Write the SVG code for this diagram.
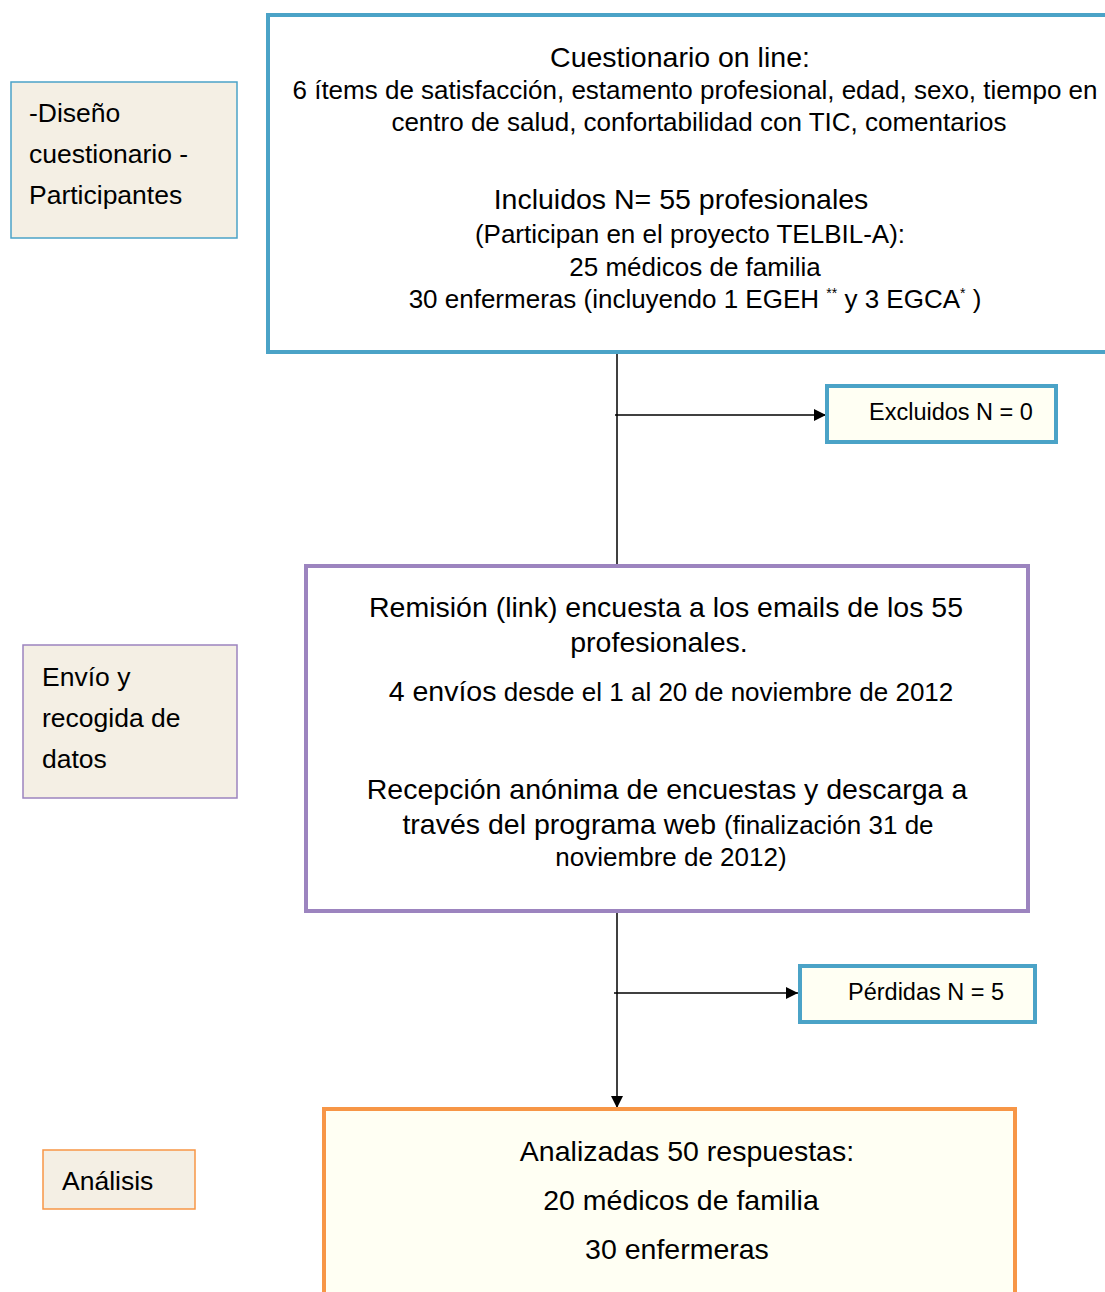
<svg xmlns="http://www.w3.org/2000/svg" width="1105" height="1292" viewBox="0 0 1105 1292">
<defs>
<style>
text{font-family:"Liberation Sans",Arial,sans-serif;fill:#000}
.big{font-size:28.5px;text-anchor:middle}
.med{font-size:26px;text-anchor:middle}
.sm{font-size:23.5px}
.lbl{font-size:26.5px}
.sup{font-size:14px}
.edge{stroke:#000;stroke-width:1.5;fill:none}
</style>
<marker id="ah" viewBox="0 0 10 10" refX="10" refY="5" markerWidth="12" markerHeight="12" markerUnits="userSpaceOnUse" orient="auto">
<path d="M0,0 L10,5 L0,10 z" fill="#000"/>
</marker>
</defs>
<rect width="1105" height="1292" fill="#fff"/>

<g id="connectors">
<line class="edge" x1="617" y1="352" x2="617" y2="566"/>
<line class="edge" x1="615" y1="415" x2="826" y2="415" marker-end="url(#ah)"/>
<line class="edge" x1="617" y1="911" x2="617" y2="1108" marker-end="url(#ah)"/>
<line class="edge" x1="614" y1="993" x2="798" y2="993" marker-end="url(#ah)"/>
</g>

<g id="label-diseno">
<rect x="11" y="82" width="226" height="156" fill="#F4EFE4" stroke="#4BA3C7" stroke-width="1.5"/>
<text class="lbl" x="29" y="122">-Diseño</text>
<text class="lbl" x="29" y="163">cuestionario -</text>
<text class="lbl" x="29" y="204">Participantes</text>
</g>

<g id="node-cuestionario">
<rect x="268" y="15" width="845" height="337" fill="#fff" stroke="#4BA3C7" stroke-width="4"/>
<text class="big" x="680" y="67">Cuestionario on line:</text>
<text class="med" x="695" y="99">6 ítems de satisfacción, estamento profesional, edad, sexo, tiempo en</text>
<text class="med" x="699" y="131">centro de salud, confortabilidad con TIC, comentarios</text>
<text class="big" x="681" y="209">Incluidos N= 55 profesionales</text>
<text class="med" x="690" y="243">(Participan en el proyecto TELBIL-A):</text>
<text class="med" x="695" y="276">25 médicos de familia</text>
<text class="med" x="695" y="308">30 enfermeras (incluyendo 1 EGEH <tspan class="sup" dy="-10">**</tspan><tspan dy="10"> y 3 EGCA</tspan><tspan class="sup" dy="-10">*</tspan><tspan dy="10"> )</tspan></text>
</g>

<g id="node-excluidos">
<rect x="827" y="386" width="229" height="56" fill="#FFFFF3" stroke="#4BA3C7" stroke-width="4"/>
<text class="sm" x="869" y="420">Excluidos N = 0</text>
</g>

<g id="label-envio">
<rect x="23" y="645" width="214" height="153" fill="#F4EFE4" stroke="#9C84BF" stroke-width="1.5"/>
<text class="lbl" x="42" y="686">Envío y</text>
<text class="lbl" x="42" y="727">recogida de</text>
<text class="lbl" x="42" y="768">datos</text>
</g>

<g id="node-remision">
<rect x="306" y="566" width="722" height="345" fill="#fff" stroke="#9C84BF" stroke-width="4"/>
<text class="big" x="666" y="617">Remisión (link) encuesta a los emails de los 55</text>
<text class="big" x="659" y="652">profesionales.</text>
<text class="med" x="671" y="701"><tspan font-size="28.5">4 envíos</tspan> desde el 1 al 20 de noviembre de 2012</text>
<text class="big" x="667" y="799">Recepción anónima de encuestas y descarga a</text>
<text class="big" x="668" y="834">través del programa web <tspan font-size="26">(finalización 31 de</tspan></text>
<text class="med" x="671" y="866">noviembre de 2012)</text>
</g>

<g id="node-perdidas">
<rect x="800" y="966" width="235" height="56" fill="#FFFFF3" stroke="#4BA3C7" stroke-width="4"/>
<text class="sm" x="848" y="1000">Pérdidas N = 5</text>
</g>

<g id="label-analisis">
<rect x="43" y="1150" width="152" height="59" fill="#F4EFE4" stroke="#F79646" stroke-width="1.5"/>
<text class="lbl" x="62" y="1190">Análisis</text>
</g>

<g id="node-analizadas">
<rect x="324" y="1109" width="691" height="200" fill="#FFFFF3" stroke="#F79646" stroke-width="4"/>
<text class="big" x="687" y="1161">Analizadas 50 respuestas:</text>
<text class="big" x="681" y="1210">20 médicos de familia</text>
<text class="big" x="677" y="1259">30 enfermeras</text>
</g>
</svg>
